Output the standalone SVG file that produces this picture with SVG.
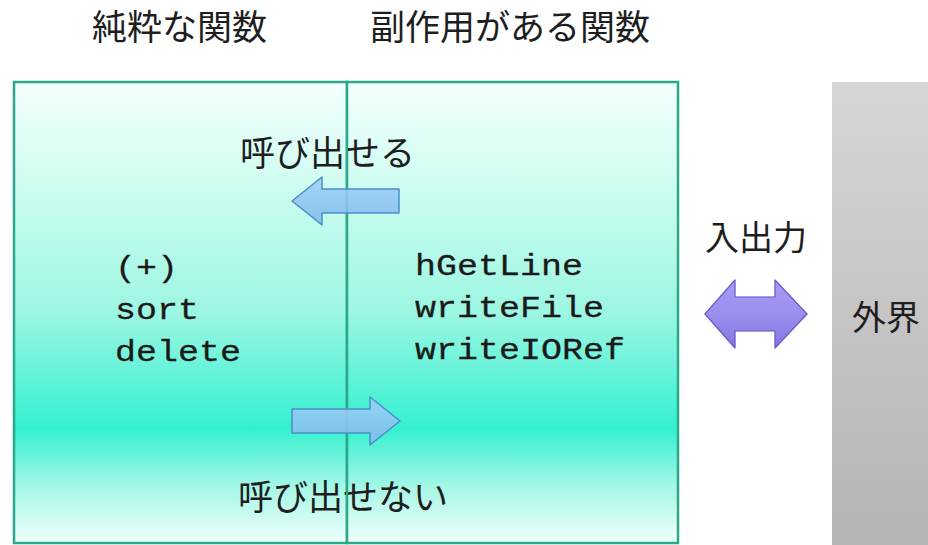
<svg xmlns="http://www.w3.org/2000/svg" width="928" height="545" viewBox="0 0 928 545">
  <defs>
    <linearGradient id="boxFill" gradientUnits="userSpaceOnUse" x1="0" y1="82" x2="0" y2="543">
      <stop offset="0" stop-color="#f4fffd"/>
      <stop offset="0.25" stop-color="#cafcf0"/>
      <stop offset="0.5" stop-color="#9cf6e2"/>
      <stop offset="0.75" stop-color="#34f0d0"/>
      <stop offset="0.88" stop-color="#a6f7e6"/>
      <stop offset="1" stop-color="#f0fffb"/>
    </linearGradient>
    <linearGradient id="grayFill" x1="0" y1="0" x2="0" y2="1">
      <stop offset="0" stop-color="#d6d6d6"/>
      <stop offset="1" stop-color="#b4b4b4"/>
    </linearGradient>
    <linearGradient id="blueFill" x1="0" y1="0" x2="0" y2="1">
      <stop offset="0" stop-color="#9fd0f6"/>
      <stop offset="1" stop-color="#82b8ee"/>
    </linearGradient>
    <linearGradient id="purpleFill" x1="0" y1="0" x2="0" y2="1">
      <stop offset="0" stop-color="#a49bf2"/>
      <stop offset="0.5" stop-color="#9a90ee"/>
      <stop offset="1" stop-color="#8276e4"/>
    </linearGradient>
    <filter id="glow" x="-20%" y="-20%" width="140%" height="140%">
      <feGaussianBlur in="SourceAlpha" stdDeviation="3"/>
      <feComponentTransfer><feFuncA type="linear" slope="0.35"/></feComponentTransfer>
      <feFlood flood-color="#b8b0f8"/>
      <feComposite operator="in" in2="SourceAlpha"/>
      <feMerge><feMergeNode/><feMergeNode in="SourceGraphic"/></feMerge>
    </filter>
  </defs>
  <style>
    .jp { font-family: "Noto Sans CJK JP", "Noto Sans", sans-serif; font-size: 35px; fill: #1e1e1e; }
    .code { font-family: "Liberation Mono", "DejaVu Sans Mono", monospace; font-size: 30px; fill: #1a1a1a; stroke: #1a1a1a; stroke-width: 0.3; }
    .box { fill: url(#boxFill); stroke: #2ba88a; stroke-width: 2.5; }
    .blue { fill: url(#blueFill); stroke: #4a8fc8; stroke-width: 1.5; fill-opacity: 0.88; stroke-linejoin: round; }
    .purple { fill: url(#purpleFill); stroke: #6b5cc8; stroke-width: 1.2; stroke-linejoin: round; }
  </style>
  <rect width="928" height="545" fill="#ffffff"/>

  <g id="pure">
    <rect class="box" x="14" y="82" width="333" height="461"/>
    <text class="jp" x="92" y="40">純粋な関数</text>
    <text class="code" x="115" y="277" textLength="63" lengthAdjust="spacingAndGlyphs">(+)</text>
    <text class="code" x="115" y="319" textLength="84" lengthAdjust="spacingAndGlyphs">sort</text>
    <text class="code" x="115" y="361" textLength="126" lengthAdjust="spacingAndGlyphs">delete</text>
  </g>

  <g id="impure">
    <rect class="box" x="347" y="82" width="331" height="461"/>
    <text class="jp" x="370" y="40">副作用がある関数</text>
    <text class="code" x="415" y="275" textLength="168" lengthAdjust="spacingAndGlyphs">hGetLine</text>
    <text class="code" x="415" y="317" textLength="189" lengthAdjust="spacingAndGlyphs">writeFile</text>
    <text class="code" x="415" y="359" textLength="210" lengthAdjust="spacingAndGlyphs">writeIORef</text>
  </g>

  <g id="world">
    <rect x="832" y="82" width="100" height="463" fill="url(#grayFill)"/>
    <text class="jp" x="852" y="330" style="font-size:34px">外界</text>
  </g>

  <g id="labels">
    <text class="jp" x="240" y="166">呼び出せる</text>
    <text class="jp" x="238" y="510">呼び出せない</text>
    <text class="jp" x="705" y="250" style="font-size:34px">入出力</text>
  </g>

  <line x1="347" y1="82" x2="347" y2="543" stroke="#2ba88a" stroke-width="2"/>

  <g id="connectors">
    <polygon class="blue" points="292,201 322,177 322,189 399,189 399,213 322,213 322,225"/>
    <polygon class="blue" points="292,409 370,409 370,397 400,421 370,445 370,433 292,433"/>
    <polygon class="purple" filter="url(#glow)" points="705,314 735,280 735,297 775,297 775,280 807,314 775,348 775,331 735,331 735,348"/>
  </g>
</svg>
